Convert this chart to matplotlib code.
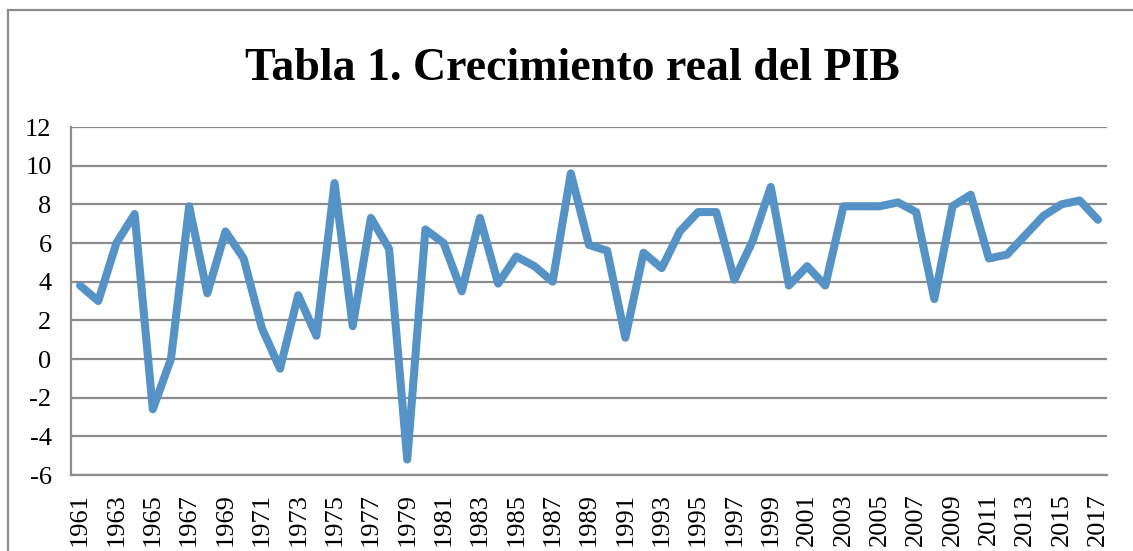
"""
Tabla 1. Crecimiento real del PIB -- line chart
"""
import matplotlib.pyplot as plt
from matplotlib.patches import Rectangle

years = list(range(1961, 2018))
growth = [
    3.8, 3.0, 6.0, 7.5, -2.6, 0.0, 7.9, 3.4, 6.6, 5.2,
    1.6, -0.5, 3.3, 1.2, 9.1, 1.7, 7.3, 5.7, -5.2, 6.7,
    6.0, 3.5, 7.3, 3.9, 5.3, 4.8, 4.0, 9.6, 5.9, 5.6,
    1.1, 5.5, 4.7, 6.6, 7.6, 7.6, 4.1, 6.1, 8.9, 3.8,
    4.8, 3.8, 7.9, 7.9, 7.9, 8.1, 7.6, 3.1, 7.9, 8.5,
    5.2, 5.4, 6.4, 7.4, 8.0, 8.2, 7.2,
]
title = "Tabla 1. Crecimiento real del PIB"
yticks = list(range(-6, 13, 2))

plt.rcParams["font.family"] = ["Liberation Serif", "DejaVu Serif"]

fig = plt.figure(figsize=(11.33, 5.51), dpi=100)
ax = fig.add_axes([71 / 1133, 1 - 475 / 551, (1107 - 71) / 1133, (475 - 127) / 551])

# outer chart border (only left and top visible in the crop)
fig.patches.append(Rectangle((8 / 1133, -0.1), 1.2, 1.1 - 10 / 551,
                             transform=fig.transFigure, fill=False,
                             edgecolor="#8c8c8c", linewidth=1.6))

idx = list(range(len(years)))
ax.plot(idx, growth, color="#5592c6", linewidth=5.8,
        solid_joinstyle="round", solid_capstyle="round", zorder=3)

ax.set_xlim(-0.5, len(years) - 0.5)
ax.set_ylim(-6, 12)
ax.set_yticks(yticks)
ax.set_yticklabels([str(v) for v in yticks], fontsize=19)
ax.set_xticks(idx[::2])
ax.set_xticklabels([str(y) for y in years[::2]], rotation=90, fontsize=19)
ax.tick_params(axis="both", length=0)
ax.tick_params(axis="y", pad=14)
ax.tick_params(axis="x", pad=13)

ax.grid(axis="y", color="#8c8c8c", linewidth=1.6)
ax.set_axisbelow(True)
for side in ["top", "right"]:
    ax.spines[side].set_visible(False)
for side in ["left", "bottom"]:
    ax.spines[side].set_color("#8c8c8c")
    ax.spines[side].set_linewidth(1.6)

fig.text(572 / 1133, 1 - 69 / 551, title, ha="center", va="center",
         fontsize=33, fontweight="bold")

fig.savefig("out.png", dpi=100)
